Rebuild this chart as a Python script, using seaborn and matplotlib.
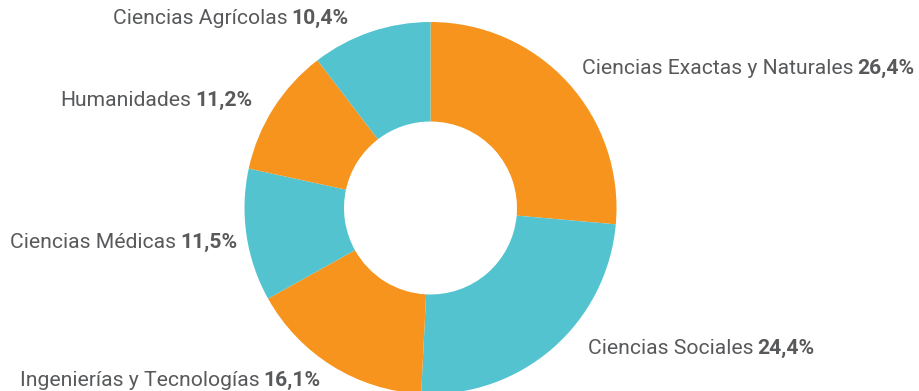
import matplotlib
matplotlib.use("Agg")
import matplotlib.pyplot as plt
import seaborn as sns

# Distribución por área de conocimiento (porcentajes)
areas = [
    "Ciencias Exactas y Naturales",
    "Ciencias Sociales",
    "Ingenierías y Tecnologías",
    "Ciencias Médicas",
    "Humanidades",
    "Ciencias Agrícolas",
]
porcentajes = [26.4, 24.4, 16.1, 11.5, 11.2, 10.4]

naranja = "#F7941E"
celeste = "#53C4CF"
colores = [naranja, celeste, naranja, celeste, naranja, celeste]

# Posición de cada etiqueta (x izquierda, y centro) en píxeles desde arriba
etiqueta_x = [582, 588, 20, 10, 60, 113]
etiqueta_y = [68, 348, 381, 243, 101, 19]

sns.set_theme(style="white")
plt.rcParams["font.family"] = ["Roboto", "DejaVu Sans"]

W, H = 919, 391
fig = plt.figure(figsize=(W / 100, H / 100), dpi=100)
ax = fig.add_axes([0, 0, 1, 1])

cx, cy = 430.5, H - 208
radio = 186
ax.pie(
    porcentajes,
    colors=colores,
    startangle=90,
    counterclock=False,
    center=(cx, cy),
    radius=radio,
    wedgeprops=dict(width=radio * 0.535, linewidth=0),
    frame=True,
)
ax.set_xlim(0, W)
ax.set_ylim(0, H)
ax.set_aspect("equal")
ax.axis("off")

gris = "#58595B"
tam = 15.2
for area, pct, x, y in zip(areas, porcentajes, etiqueta_x, etiqueta_y):
    t = ax.text(x, H - y, area, fontsize=tam, color=gris,
                ha="left", va="center")
    ax.annotate(f"{pct:.1f}%".replace(".", ","), xy=(1, 0), xycoords=t,
                xytext=(3, 0), textcoords="offset points",
                fontsize=tam, fontweight="bold", color=gris,
                ha="left", va="bottom")

fig.savefig("out.png", dpi=100, facecolor="white")
